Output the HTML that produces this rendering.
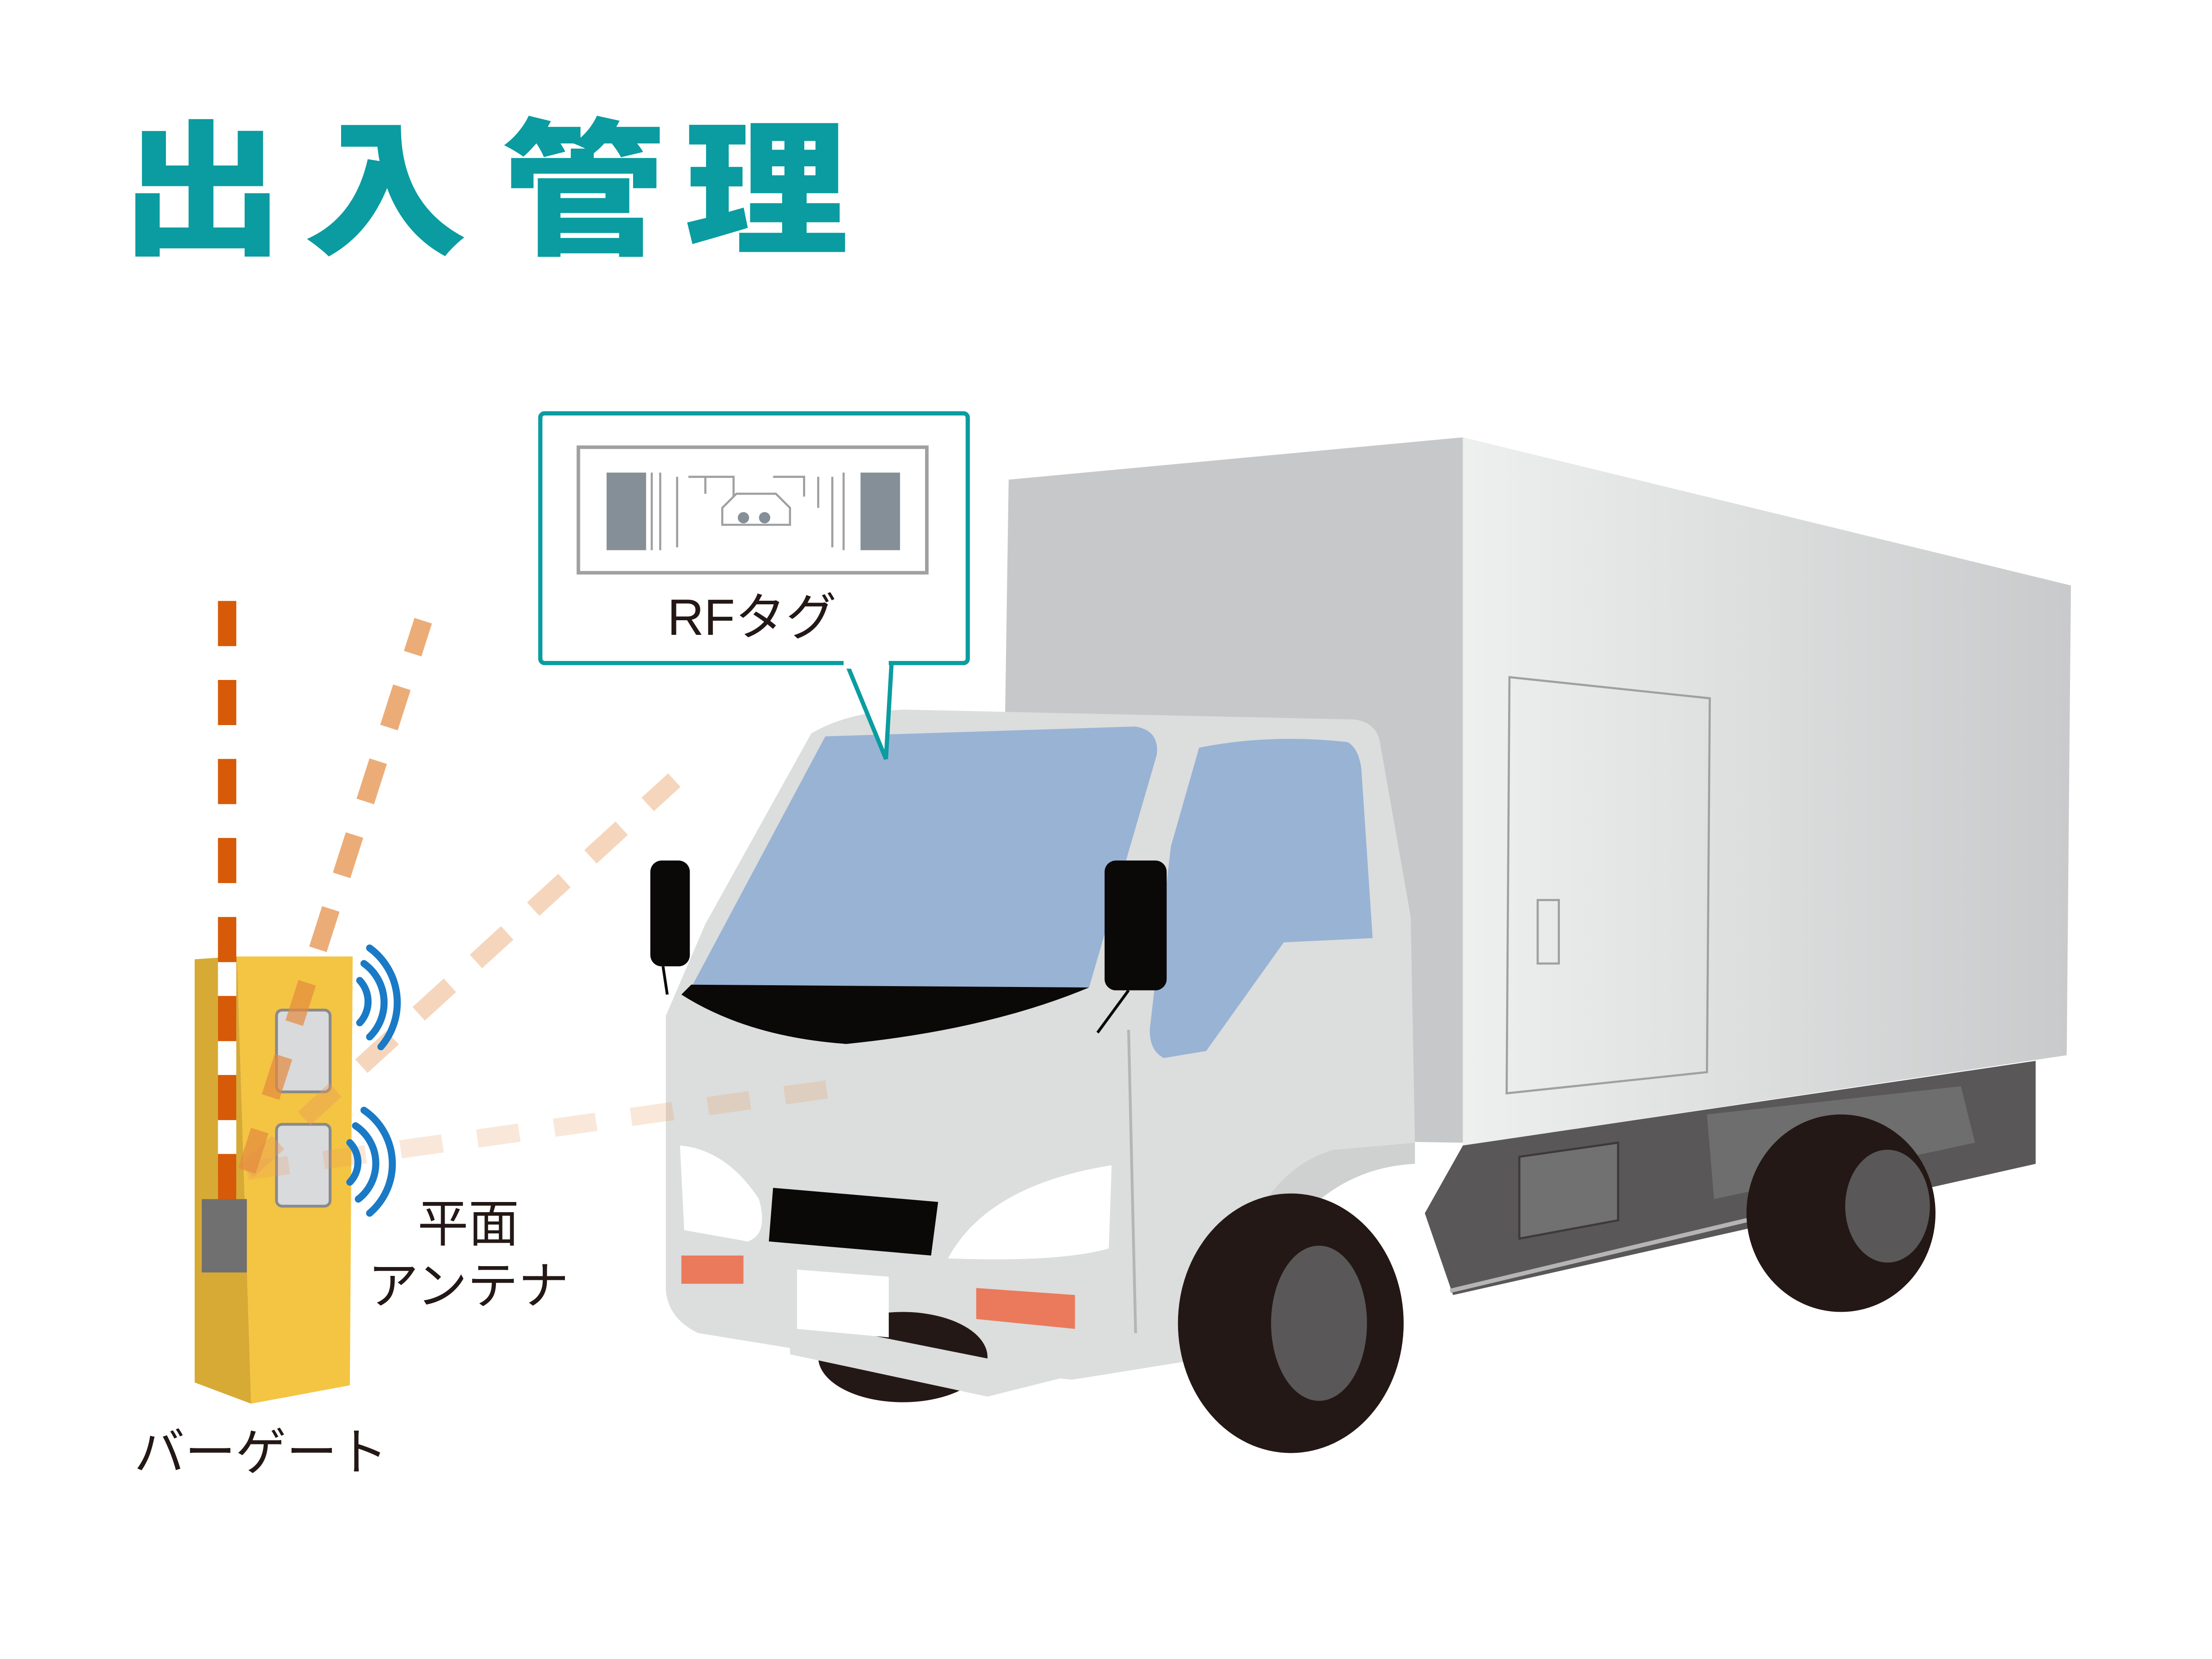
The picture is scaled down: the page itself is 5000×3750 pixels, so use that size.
<!DOCTYPE html>
<html><head><meta charset="utf-8"><style>
html,body{margin:0;padding:0;background:#fff;}
svg{display:block;}
text{font-family:"Liberation Sans","Noto Sans CJK JP",sans-serif;}
</style></head><body>
<svg width="5000" height="3750" viewBox="0 0 1568 1176" preserveAspectRatio="none" xmlns="http://www.w3.org/2000/svg">
<defs>
<linearGradient id="side" x1="0" y1="0" x2="1" y2="0">
<stop offset="0" stop-color="#eef0ef"/><stop offset="1" stop-color="#c9cacb"/>
</linearGradient>
</defs>
<rect width="1568" height="1176" fill="#fff"/>
<!-- Title -->
<g font-size="104" font-weight="900" fill="#0a9ca0">
<text transform="translate(85,172) scale(1.12,1)">出</text>
<text transform="translate(215,172) scale(1.12,1)">入</text>
<text transform="translate(355,172) scale(1.12,1)">管</text>
<text transform="translate(485,172) scale(1.12,1)">理</text>
</g>

<!-- Truck cargo -->
<polygon points="715,340 1037,310 1037,810 708,805" fill="#c7c8ca"/>
<polygon points="1037,310 1468,415 1465,748 1037,812" fill="url(#side)"/>
<polygon points="1070,480 1212,495 1210,760 1068,775" fill="none" stroke="#9fa0a0" stroke-width="1.5"/>
<rect x="1090" y="638" width="15" height="45" fill="none" stroke="#9fa0a0" stroke-width="1.5"/>
<!-- chassis -->
<polygon points="1037,812 1443,752 1443,825 1030,918 1010,860" fill="#595757"/>
<polygon points="1210,790 1390,770 1400,810 1215,850" fill="#6e6e6e"/>
<polygon points="1077,820 1147,810 1147,865 1077,878" fill="#727171" stroke="#3e3a39" stroke-width="1.5"/>
<line x1="1028" y1="915" x2="1280" y2="855" stroke="#b5b5b6" stroke-width="3"/>
<!-- rear wheel -->
<ellipse cx="1305" cy="860" rx="67" ry="70" fill="#231815"/>
<ellipse cx="1338" cy="855" rx="30" ry="40" fill="#595757"/>
<!-- cab -->
<path d="M575,520 Q600,505 640,503 L960,510 Q975,512 978,525 L1000,650 L1003,810 L945,815 Q895,830 875,900 L860,962 L760,978 L600,962 L495,945 Q474,935 472,915 L472,720 L500,655 Z" fill="#dcdddd"/>
<path d="M945,815 Q895,830 875,900 L860,962 L865,990 Q900,830 1003,825 L1003,810 Z" fill="#cfd0d0"/>
<line x1="800" y1="730" x2="805" y2="945" stroke="#b5b5b6" stroke-width="2"/>
<!-- front wheel -->
<ellipse cx="915" cy="938" rx="80" ry="92" fill="#231815"/>
<ellipse cx="935" cy="938" rx="34" ry="55" fill="#595757"/>
<ellipse cx="640" cy="962" rx="60" ry="32" fill="#231815"/>
<path d="M560,935 L760,975 L700,990 L560,960 Z" fill="#dcdddd"/>
<!-- windshield -->
<path d="M585,522 L805,515 Q822,518 820,535 L772,700 L490,700 Z" fill="#98b3d4"/>
<!-- side window -->
<path d="M850,530 Q900,520 955,526 Q963,530 965,545 L973,665 L910,668 L855,745 L825,750 Q815,745 815,730 L830,600 Z" fill="#98b3d4"/>
<!-- dash shade -->
<path d="M483,705 L490,698 L772,700 Q700,730 600,740 Q530,735 483,705 Z" fill="#0b0808"/>
<!-- mirrors -->
<rect x="461" y="610" width="28" height="75" rx="8" fill="#0b0808"/>
<line x1="470" y1="685" x2="473" y2="705" stroke="#0b0808" stroke-width="2"/>
<rect x="783" y="610" width="44" height="92" rx="8" fill="#0b0808"/>
<line x1="800" y1="702" x2="778" y2="732" stroke="#0b0808" stroke-width="2"/>
<!-- headlights -->
<path d="M482,812 Q515,815 538,850 Q545,875 530,880 L485,872 Z" fill="#fff"/>
<path d="M672,892 Q700,840 788,826 L786,885 Q750,895 672,892 Z" fill="#fff"/>
<!-- grille -->
<polygon points="548,842 665,852 660,890 545,880" fill="#0b0808"/>
<rect x="483" y="890" width="44" height="20" fill="#ea7a5b"/>
<polygon points="692,913 762,918 762,942 692,935" fill="#ea7a5b"/>
<polygon points="565,900 630,905 630,948 565,942" fill="#fff"/>

<!-- Callout -->
<polygon points="600,470 628,538 632,470" fill="#fff" stroke="#0a9ca0" stroke-width="3"/>
<rect x="383" y="293" width="303" height="177" rx="3" fill="#fff" stroke="#0a9ca0" stroke-width="3"/>
<rect x="598" y="466" width="32" height="8" fill="#fff"/>
<rect x="410" y="317" width="247" height="89" fill="#fff" stroke="#9fa0a0" stroke-width="2.5"/>
<rect x="430" y="335" width="28" height="55" fill="#848f98"/>
<rect x="610" y="335" width="28" height="55" fill="#848f98"/>
<path d="M462,335 V390 M468,335 V390 M480,338 V388 M488,338 H500 V350 M500,338 H520 V352 M548,338 H570 V352 M580,338 V360 M590,338 V388 M598,335 V390" stroke="#9fa0a0" stroke-width="1.5" fill="none"/>
<path d="M512,360 L522,350 H550 L560,360 V372 H512 Z" fill="none" stroke="#9fa0a0" stroke-width="1.5"/>
<circle cx="527" cy="367" r="4" fill="#848f98"/><circle cx="542" cy="367" r="4" fill="#848f98"/>
<text x="533" y="450" font-size="36" text-anchor="middle" fill="#231815">RFタグ</text>

<!-- gate body -->
<polygon points="138,680 168,678 178,995 138,980" fill="#d7aa35"/>
<polygon points="168,678 250,678 248,982 178,995" fill="#f4c443"/>
<rect x="196" y="716" width="38" height="58" rx="4" fill="#d9dadb" stroke="#8a8a8a" stroke-width="2"/>
<rect x="196" y="797" width="38" height="58" rx="4" fill="#d9dadb" stroke="#8a8a8a" stroke-width="2"/>
<!-- Bar gate poles -->
<line x1="175" y1="830" x2="588" y2="772" stroke="#e89a5a" stroke-width="13" stroke-dasharray="30 25" opacity="0.22"/>
<line x1="175" y1="830" x2="478" y2="553" stroke="#e89a5a" stroke-width="13" stroke-dasharray="30 25" opacity="0.4"/>
<line x1="175" y1="830" x2="300" y2="440" stroke="#e58a3f" stroke-width="13" stroke-dasharray="30 25" opacity="0.7"/>
<line x1="161" y1="850" x2="161" y2="418" stroke="#fff" stroke-width="13"/>
<line x1="161" y1="850" x2="161" y2="418" stroke="#d65a07" stroke-width="13" stroke-dasharray="32 24"/>
<rect x="143" y="850" width="32" height="52" fill="#717071"/>
<!-- waves -->
<g fill="none" stroke="#1a7ac6" stroke-width="5" stroke-linecap="round">
<path d="M255,695 A22,22 0 0 1 255,725"/>
<path d="M258,683 A34,34 0 0 1 262,735"/>
<path d="M262,672 A48,48 0 0 1 270,742"/>
<path d="M248,810 A20,20 0 0 1 248,838"/>
<path d="M252,798 A32,32 0 0 1 254,850"/>
<path d="M258,787 A46,46 0 0 1 262,860"/>
</g>
<text x="332" y="880" font-size="36" text-anchor="middle" fill="#231815">平面</text>
<text x="332" y="924" font-size="36" text-anchor="middle" fill="#231815">アンテナ</text>
<text x="185" y="1042" font-size="36" text-anchor="middle" fill="#231815">バーゲート</text>
</svg>
</body></html>
